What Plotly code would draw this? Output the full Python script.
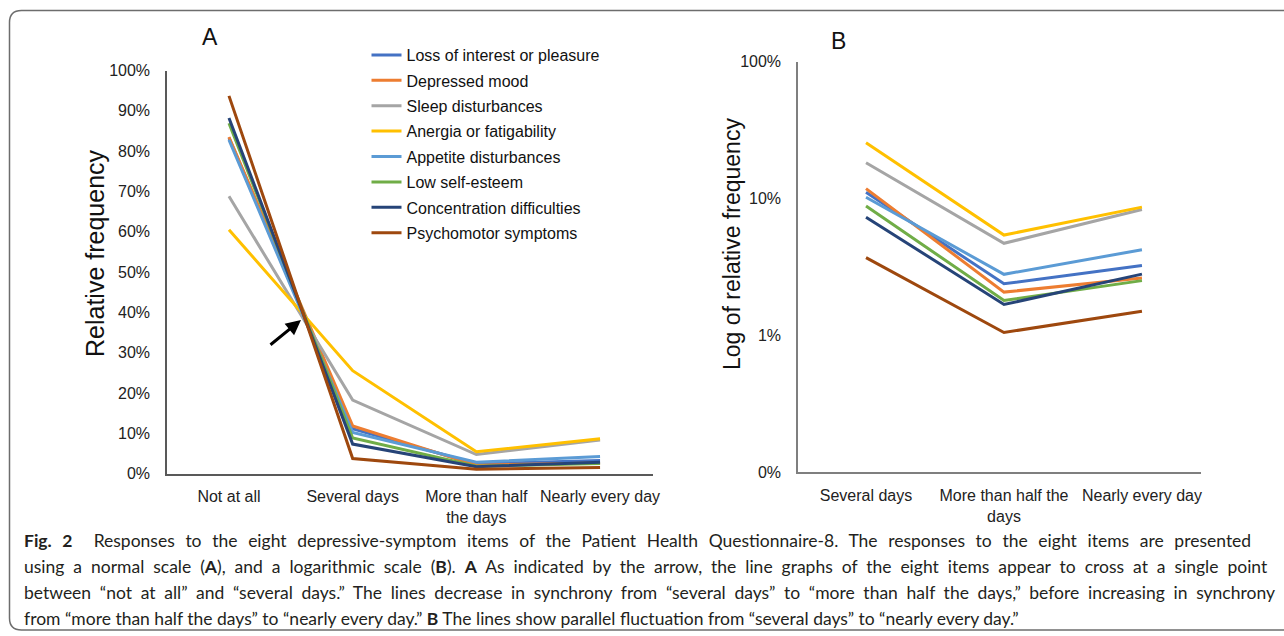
import plotly.graph_objects as go

# ---------------- data ----------------
categories_a = ["Not at all", "Several days", "More than half<br>the days", "Nearly every day"]
categories_b = ["Several days", "More than half the<br>days", "Nearly every day"]

series_names = [
    "Loss of interest or pleasure",
    "Depressed mood",
    "Sleep disturbances",
    "Anergia or fatigability",
    "Appetite disturbances",
    "Low self-esteem",
    "Concentration difficulties",
    "Psychomotor symptoms",
]

# relative frequency (%) for: not at all, several days, more than half the days, nearly every day
loss_of_interest = [83.3, 11.1, 2.38, 3.24]
depressed_mood = [83.5, 11.8, 2.07, 2.62]
sleep_disturbances = [68.8, 18.2, 4.7, 8.3]
anergia = [60.5, 25.5, 5.4, 8.64]
appetite = [82.8, 10.2, 2.79, 4.22]
low_self_esteem = [86.9, 8.8, 1.80, 2.51]
concentration = [88.2, 7.3, 1.68, 2.80]
psychomotor = [93.7, 3.7, 1.05, 1.50]

series_values = [loss_of_interest, depressed_mood, sleep_disturbances, anergia,
                 appetite, low_self_esteem, concentration, psychomotor]

colors = ["#4472C4", "#ED7D31", "#A5A5A5", "#FFC000",
          "#5B9BD5", "#70AD47", "#264478", "#9E480E"]

ticks_a = [0, 10, 20, 30, 40, 50, 60, 70, 80, 90, 100]
ticktext_a = ["0%", "10%", "20%", "30%", "40%", "50%", "60%", "70%", "80%", "90%", "100%"]
ticks_b = [0.1, 1, 10, 100]
ticktext_b = ["0%", "1%", "10%", "100%"]

W, H = 1284, 636
FONT = "Liberation Sans, Arial, sans-serif"
CAP_FONT = "Lato, sans-serif"

def px(x):
    return x / W

def py(y):
    return 1 - y / H

fig = go.Figure()

for name, vals, col in zip(series_names, series_values, colors):
    fig.add_trace(go.Scatter(
        x=categories_a, y=vals, mode="lines", name=name,
        line=dict(color=col, width=3), xaxis="x", yaxis="y",
        legendgroup=name, showlegend=True))

for name, vals, col in zip(series_names, series_values, colors):
    fig.add_trace(go.Scatter(
        x=categories_b, y=vals[1:], mode="lines", name=name,
        line=dict(color=col, width=3), xaxis="x2", yaxis="y2",
        legendgroup=name, showlegend=False))

axis_common = dict(showgrid=False, zeroline=False, showline=True, ticks="",
                   automargin=False,
                   tickfont=dict(family=FONT, size=16, color="#222"),
                   fixedrange=True)

fig.update_layout(
    template="none",
    width=W, height=H,
    margin=dict(l=0, r=0, t=0, b=0, pad=0, autoexpand=False),
    paper_bgcolor="white", plot_bgcolor="white",
    font=dict(family=FONT, color="#111"),
    xaxis=dict(domain=[px(167), px(653)], anchor="y", type="category",
               range=[-0.501, 3.428], linecolor="#595959", linewidth=1.5,
               ticklabelstandoff=8, **axis_common),
    yaxis=dict(domain=[py(473.5), py(70.5)], anchor="x", range=[0, 100],
               tickvals=ticks_a, ticktext=ticktext_a, linecolor="#595959", linewidth=1.5,
               ticklabelstandoff=12, **axis_common),
    xaxis2=dict(domain=[px(798), px(1201)], anchor="y2", type="category",
                range=[-0.493, 2.428], linecolor="#7f7f7f", linewidth=1.5,
                ticklabelstandoff=8, **axis_common),
    yaxis2=dict(domain=[py(472.3), py(61.5)], anchor="x2", type="log",
                range=[-1, 2], tickvals=ticks_b, ticktext=ticktext_b,
                linecolor="#7f7f7f", linewidth=1.5, ticklabelstandoff=12,
                **axis_common),
    legend=dict(x=px(366.5), y=py(38), xanchor="left", yanchor="top",
                font=dict(family=FONT, size=16, color="#111"),
                bgcolor="rgba(0,0,0,0)", tracegroupgap=1.6, itemwidth=30,
                borderwidth=0),
    showlegend=True,
)

annotations = [
    dict(text="A", x=px(210), y=py(37), font=dict(family=FONT, size=23, color="#111")),
    dict(text="B", x=px(838), y=py(41), font=dict(family=FONT, size=23, color="#111")),
    dict(text="Relative frequency", x=px(95), y=py(253), textangle=-90,
         font=dict(family=FONT, size=25, color="#111")),
    dict(text="Log of relative frequency", x=px(732), y=py(244), textangle=-90,
         font=dict(family=FONT, size=23, color="#111")),
]
for a in annotations:
    a.update(xref="paper", yref="paper", showarrow=False, xanchor="center", yanchor="middle")
    fig.add_annotation(**a)

# arrow pointing at the crossing point
fig.add_annotation(x=px(301), y=py(320), xref="paper", yref="paper", text="",
                   showarrow=True, ax=-32, ay=26, arrowhead=2, arrowsize=1,
                   arrowwidth=3, arrowcolor="#000")

caption_lines = [
    "<b>Fig. 2</b>  Responses to the eight depressive-symptom items of the Patient Health Questionnaire-8. The responses to the eight items are presented",
    "using a normal scale (<b>A</b>), and a logarithmic scale (<b>B</b>). <b>A</b> As indicated by the arrow, the line graphs of the eight items appear to cross at a single point",
    "between \u201cnot at all\u201d and \u201cseveral days.\u201d The lines decrease in synchrony from \u201cseveral days\u201d to \u201cmore than half the days,\u201d before increasing in synchrony",
    "from \u201cmore than half the days\u201d to \u201cnearly every day.\u201d <b>B</b> The lines show parallel fluctuation from \u201cseveral days\u201d to \u201cnearly every day.\u201d",
]
caption_y = [540, 566, 592, 618]
for line, yy in zip(caption_lines, caption_y):
    fig.add_annotation(text=line, x=px(22), y=py(yy), xref="paper", yref="paper",
                       showarrow=False, xanchor="left", yanchor="middle", align="left",
                       font=dict(family=CAP_FONT, size=17.5, color="#231f20"))

# rounded frame
x0, y0, y1, r = 9.5, 10.5, 630, 12
path = (f"M {px(W + 20)},{py(y0)} L {px(x0 + r)},{py(y0)} "
        f"Q {px(x0)},{py(y0)} {px(x0)},{py(y0 + r)} "
        f"L {px(x0)},{py(y1 - r)} Q {px(x0)},{py(y1)} {px(x0 + r)},{py(y1)} "
        f"L {px(W + 20)},{py(y1)}")
fig.add_shape(type="path", path=path, xref="paper", yref="paper",
              line=dict(color="#6d6d6d", width=1.5))

# page: no body margin; caption lines 1-3 are justified like the printed caption
post_script = r"""
document.body.style.margin = '0';
(function(){
  var gd = document.getElementById('{plot_id}');
  var targets = [['Fig. 2', 1245], ['using a normal', 1268], ['between', 1275]];
  function justify(){
    var texts = gd.querySelectorAll('text.annotation-text');
    texts.forEach(function(t){
      var s = t.textContent;
      targets.forEach(function(tg){
        if (s.indexOf(tg[0]) !== 0) return;
        t.style.wordSpacing = '0px';
        var r0 = t.getBoundingClientRect();
        var n = s.trim().split(/[ \u00a0]+/).length - 1;
        if (n < 1) return;
        var extra = (tg[1] - r0.left) - r0.width;
        t.style.wordSpacing = (extra / n) + 'px';
        var r1 = t.getBoundingClientRect();
        var shift = r0.left - r1.left;
        if (Math.abs(shift) > 0.3) {
          var x = parseFloat(t.getAttribute('x') || '0');
          t.setAttribute('x', x + shift);
        }
      });
    });
  }
  justify();
  if (document.fonts && document.fonts.ready) { document.fonts.ready.then(justify); }
  gd.on('plotly_afterplot', justify);
})();
"""

fig.write_html("out.html", post_script=post_script,
               config={"displayModeBar": False, "staticPlot": False})
